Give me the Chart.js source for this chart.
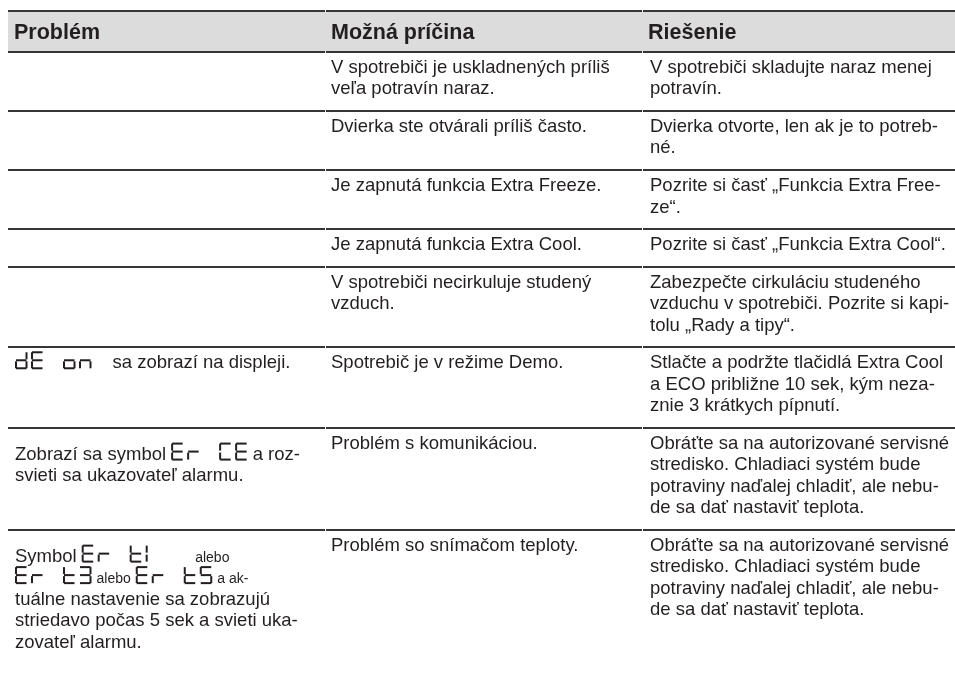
<!DOCTYPE html>
<html lang="sk">
<head>
<meta charset="utf-8">
<title>Riešenie problémov</title>
<script src="https://cdn.jsdelivr.net/npm/chart.js@4.4.1/dist/chart.umd.min.js"></script>
<style>
  html, body { margin: 0; padding: 0; background: #fff; overflow: hidden; }
  #wrap { width: 959px; height: 677px; }
</style>
</head>
<body>
<div id="wrap"><canvas id="tabulka" width="959" height="677"></canvas></div>
<script>
/* DATA TABUĽKY */

// HLAVIČKA
const stlpce = ['Problém', 'Možná príčina', 'Riešenie'];

// STĹPEC PROBLÉM: RIADKY TEXTU, { seg } = SYMBOL NA DISPLEJI, { small } = MENŠIE PÍSMO
const problemy = [
    [],
    [],
    [],
    [],
    [],
    [[{ seg: 'dE on ' }, 'sa zobrazí na displeji.']],
    [['Zobrazí sa symbol', { seg: 'Er CE' }, 'a roz-'], ['svieti sa ukazovateľ alarmu.']],
    [
        ['Symbol', { seg: 'Er t1  ' }, { small: 'alebo' }],
        [{ seg: 'Er t3' }, { small: 'alebo' }, { seg: 'Er t5' }, { small: 'a ak-' }],
        ['tuálne nastavenie sa zobrazujú'],
        ['striedavo počas 5 sek a svieti uka-'],
        ['zovateľ alarmu.']
    ]
];

// STĹPEC MOŽNÁ PRÍČINA
const priciny = [
    ['V spotrebiči je uskladnených príliš', 'veľa potravín naraz.'],
    ['Dvierka ste otvárali príliš často.'],
    ['Je zapnutá funkcia Extra Freeze.'],
    ['Je zapnutá funkcia Extra Cool.'],
    ['V spotrebiči necirkuluje studený', 'vzduch.'],
    ['Spotrebič je v režime Demo.'],
    ['Problém s komunikáciou.'],
    ['Problém so snímačom teploty.']
];

// STĹPEC RIEŠENIE
const riesenia = [
    ['V spotrebiči skladujte naraz menej', 'potravín.'],
    ['Dvierka otvorte, len ak je to potreb-', 'né.'],
    ['Pozrite si časť „Funkcia Extra Free-', 'ze“.'],
    ['Pozrite si časť „Funkcia Extra Cool“.'],
    ['Zabezpečte cirkuláciu studeného', 'vzduchu v spotrebiči. Pozrite si kapi-', 'tolu „Rady a tipy“.'],
    ['Stlačte a podržte tlačidlá Extra Cool', 'a ECO približne 10 sek, kým neza-', 'znie 3 krátkych pípnutí.'],
    ['Obráťte sa na autorizované servisné', 'stredisko. Chladiaci systém bude', 'potraviny naďalej chladiť, ale nebu-', 'de sa dať nastaviť teplota.'],
    ['Obráťte sa na autorizované servisné', 'stredisko. Chladiaci systém bude', 'potraviny naďalej chladiť, ale nebu-', 'de sa dať nastaviť teplota.']
];

/* ROZLOŽENIE (V JEDNOTKÁCH RIADKU TEXTU NA OSI Y) */
const HLAVICKA = 1.9;   // výška hlavičky
const ODSADENIE = 0.75; // voľné miesto v riadku
const UCIARIA = 0.98;   // prvá účiara od horného okraja riadku
const Y_MAX = 31;

const FARBA_TEXT = '#231f20';
const FARBA_CIARA = '#353535';
const FARBA_HLAVICKA = '#dcdcdc';
const PISMO = '18.5px "Liberation Sans", Arial, sans-serif';
const PISMO_MALE = '14px "Liberation Sans", Arial, sans-serif';
const PISMO_HLAVICKA = 'bold 21.5px "Liberation Sans", Arial, sans-serif';

// SEGMENTY SEDEMSEGMENTOVÉHO DISPLEJA
const SEGMENTY = { d: 'bcdeg', E: 'adefg', o: 'cdeg', n: 'ceg', r: 'eg', C: 'adef', t: 'defg', '1': 'ef', '3': 'abcdg', '5': 'acdfg' };

// FUNKCIA NA KRESLENIE SYMBOLU DISPLEJA, VRACIA ŠÍRKU
function kresliSymbol(ctx, text, x, baseline) {
    const w = 12.5, h = 18, s = 2, krok = 16;
    const top = baseline - h + 1;
    const mid = top + h / 2;
    for (let i = 0; i < text.length; i++) {
        const segs = SEGMENTY[text[i]] || '';
        const x0 = x + i * krok;
        for (const k of segs) {
            if (k === 'a') ctx.fillRect(x0 + 1, top, w - 2, s);
            if (k === 'b') ctx.fillRect(x0 + w - s, top + 1, s, h / 2 - 2);
            if (k === 'c') ctx.fillRect(x0 + w - s, mid + 1, s, h / 2 - 2);
            if (k === 'd') ctx.fillRect(x0 + 1, top + h - s, w - 2, s);
            if (k === 'e') ctx.fillRect(x0, mid + 1, s, h / 2 - 2);
            if (k === 'f') ctx.fillRect(x0, top + 1, s, h / 2 - 2);
            if (k === 'g') ctx.fillRect(x0 + 1, mid - s / 2, w - 2, s);
        }
    }
    return text.length * krok - (krok - w);
}

// FUNKCIA NA KRESLENIE JEDNÉHO RIADKU (TEXT + SYMBOLY)
function kresliRiadok(ctx, tokeny, x, baseline) {
    let cx = x;
    tokeny.forEach((tok, i) => {
        if (i > 0) cx += 5;
        if (typeof tok === 'string') {
            ctx.font = PISMO;
            ctx.fillText(tok, cx, baseline);
            cx += ctx.measureText(tok).width;
        } else if (tok.small) {
            ctx.font = PISMO_MALE;
            ctx.fillText(tok.small, cx, baseline);
            cx += ctx.measureText(tok.small).width;
        } else if (tok.seg) {
            cx += kresliSymbol(ctx, tok.seg, cx, baseline);
        }
    });
}

// PRVÝ RIADOK S TEXTOM PRED SYMBOLOM JE VYŠŠÍ
function posunBunky(riadky) {
    if (!riadky.length) return 0;
    const prvy = riadky[0];
    const maSymbol = prvy.some(t => typeof t === 'object' && t.seg);
    return (maSymbol && typeof prvy[0] === 'string') ? 0.5 : 0;
}

// VÝPOČET ZAČIATKOV RIADKOV TABUĽKY
const zaciatky = [];
let poz = HLAVICKA;
priciny.forEach((_, i) => {
    zaciatky.push(poz);
    const vyska = Math.max(problemy[i].length + posunBunky(problemy[i]), priciny[i].length, riesenia[i].length);
    poz += vyska + ODSADENIE;
});

// PLUGIN NA KRESLENIE TABUĽKY CEZ OSI GRAFU
const tabulkaPlugin = {
    id: 'tabulka',
    afterDraw(chart) {
        const ctx = chart.ctx;
        const x = chart.scales.x;
        const y = chart.scales.y;
        const px = v => x.getPixelForValue(v);
        const py = v => y.getPixelForValue(v);

        ctx.save();

        // POZADIE HLAVIČKY
        ctx.fillStyle = FARBA_HLAVICKA;
        ctx.fillRect(px(0), py(0), px(3) - px(0), py(HLAVICKA) - py(0));

        // VODOROVNÉ ČIARY (PO STĹPCOCH, S MALOU MEDZEROU)
        const ciara = v => {
            ctx.fillStyle = FARBA_CIARA;
            for (let c = 0; c < 3; c++) {
                const x0 = px(c) + (c > 0 ? 1 : 0);
                ctx.fillRect(x0, Math.round(py(v)) - 1, px(c + 1) - x0, 2);
            }
        };
        ciara(0);
        zaciatky.forEach(z => ciara(z));

        // TEXT HLAVIČKY
        ctx.fillStyle = FARBA_TEXT;
        ctx.textBaseline = 'alphabetic';
        ctx.font = PISMO_HLAVICKA;
        stlpce.forEach((s, c) => {
            ctx.fillText(s, px(c) + 6, py(HLAVICKA / 2) + 7.5);
        });

        // TEXT RIADKOV
        zaciatky.forEach((z, i) => {
            const posun = posunBunky(problemy[i]);
            problemy[i].forEach((r, j) => kresliRiadok(ctx, r, px(0) + 7, py(z + posun + UCIARIA + j)));
            ctx.font = PISMO;
            priciny[i].forEach((r, j) => ctx.fillText(r, px(1) + 6, py(z + UCIARIA + j)));
            riesenia[i].forEach((r, j) => ctx.fillText(r, px(2) + 8, py(z + UCIARIA + j)));
        });

        ctx.restore();
    }
};

// VYTVORENIE GRAFU
const tabulka = new Chart(document.getElementById('tabulka').getContext('2d'), {
    type: 'scatter',
    data: { datasets: [] },
    options: {
        responsive: false,
        animation: false,
        layout: { padding: { top: 11, left: 8, right: 0, bottom: 0 } },
        scales: {
            x: { type: 'linear', min: 0, max: 3, display: false },
            y: { type: 'linear', min: 0, max: Y_MAX, reverse: true, display: false }
        },
        plugins: {
            legend: { display: false },
            tooltip: { enabled: false }
        }
    },
    plugins: [tabulkaPlugin]
});
</script>
</body>
</html>
